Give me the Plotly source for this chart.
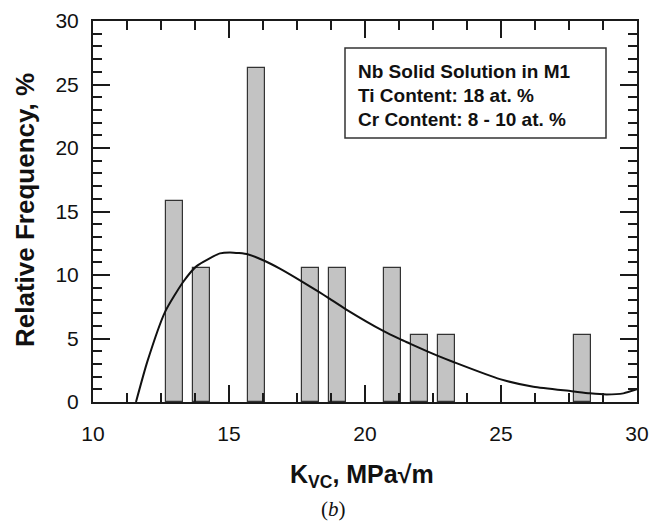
import plotly.graph_objects as go

# Histogram bars (relative frequency, %)
bar_x = [13, 14, 16, 18, 19, 21, 22, 23, 28]
bar_y = [15.79, 10.53, 26.32, 10.53, 10.53, 10.53, 5.26, 5.26, 5.26]

# Fitted distribution curve
curve_x = [11.58, 12.0, 12.65, 13.32, 13.81, 14.67, 15.04, 15.71, 16.32, 16.87,
           17.67, 18.32, 18.65, 19.3, 20.67, 21.29, 21.65, 22.27, 22.66, 23.25,
           24.96, 26.19, 27.6, 28.27, 28.88, 29.5, 30.0]
curve_y = [0.0, 3.2, 7.1, 9.47, 10.7, 11.7, 11.78, 11.62, 11.1, 10.5,
           9.5, 8.65, 8.2, 7.3, 5.6, 4.95, 4.6, 4.0, 3.65, 3.15,
           1.8, 1.2, 0.85, 0.68, 0.6, 0.68, 1.0]

legend_lines = ["Nb Solid Solution in M1", "Ti Content: 18 at. %", "Cr Content: 8 - 10 at. %"]
x_ticks = [10, 15, 20, 25, 30]
y_ticks = [0, 5, 10, 15, 20, 25, 30]

FONT = "Liberation Sans, Arial, Helvetica, sans-serif"
AX = "#1a1a1a"

fig = go.Figure()
fig.add_trace(go.Scatter(x=curve_x, y=curve_y, mode="lines",
                         line=dict(color="#111", width=2, shape="spline", smoothing=0.6),
                         hoverinfo="skip", showlegend=False))
fig.add_trace(go.Bar(x=bar_x, y=bar_y, width=0.62,
                     marker=dict(color="#c3c3c3", line=dict(color="#333", width=1.2)),
                     showlegend=False))

W, H = 660, 525
L, R, T, B = 93, 23, 21, 123
pw, ph = W - L - R, H - T - B

axis_common = dict(showline=True, linewidth=2, linecolor=AX, mirror="ticks",
                   ticks="inside", ticklen=17, tickwidth=2, tickcolor=AX,
                   showgrid=False, zeroline=False, automargin=False,
                   tickfont=dict(family=FONT, size=21, color="#111"))

fig.update_layout(
    width=W, height=H,
    margin=dict(l=L, r=R, t=T, b=B),
    paper_bgcolor="white", plot_bgcolor="white",
    bargap=0,
    xaxis=dict(range=[10, 30], tickvals=x_ticks, ticklabelstandoff=12,
               minor=dict(ticks="inside", ticklen=9, tickwidth=1.5, tickcolor=AX, dtick=1.25, showgrid=False),
               **axis_common),
    yaxis=dict(range=[0, 30], tickvals=y_ticks, ticklabelstandoff=8,
               minor=dict(ticks="inside", ticklen=9, tickwidth=1.5, tickcolor=AX, dtick=1, showgrid=False),
               **axis_common),
)

def px_x(p):
    return (p - L) / pw

def px_y(p):
    return (T + ph - p) / ph

# legend box
fig.add_shape(type="rect", xref="paper", yref="paper",
              x0=px_x(345), x1=px_x(606), y0=px_y(138), y1=px_y(48),
              line=dict(color="#333", width=1.5), fillcolor="white")
for i, txt in enumerate(legend_lines):
    fig.add_annotation(xref="paper", yref="paper", x=px_x(356), y=px_y(71 + 24 * i),
                       xanchor="left", yanchor="middle", showarrow=False,
                       text="<b>%s</b>" % txt,
                       font=dict(family=FONT, size=19, color="#111"))

# axis titles
fig.add_annotation(xref="paper", yref="paper", x=px_x(362), y=px_y(476),
                   xanchor="center", yanchor="middle", showarrow=False,
                   text="<b>K<sub>VC</sub>, MPa√m</b>",
                   font=dict(family=FONT, size=25, color="#111"))
fig.add_annotation(xref="paper", yref="paper", x=px_x(25), y=px_y(210),
                   xanchor="center", yanchor="middle", showarrow=False, textangle=-90,
                   text="<b>Relative Frequency, %</b>",
                   font=dict(family=FONT, size=26, color="#111"))
fig.add_annotation(xref="paper", yref="paper", x=px_x(333), y=px_y(523),
                   xanchor="center", yanchor="bottom", showarrow=False,
                   text="(<i>b</i>)",
                   font=dict(family="Liberation Serif, Times New Roman, serif", size=21, color="#111"))

fig.write_html("out.html", config={"displayModeBar": False},
               post_script="document.body.style.margin='0';document.body.style.overflow='hidden';")
